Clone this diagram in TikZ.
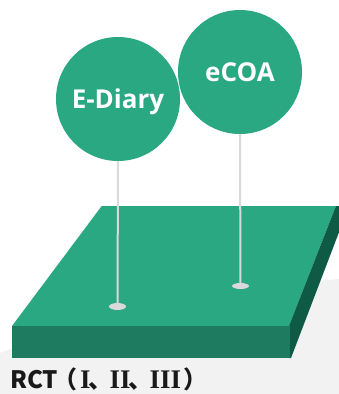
\documentclass[tikz,border=0pt]{standalone}
\usepackage{fontspec}
\newfontfamily\labelfont{Open Sans}
\newfontfamily\cjk{Noto Sans CJK SC}
\newfontfamily\romfont{Liberation Serif}[Scale=1.12]
\definecolor{topgreen}{HTML}{2AA882}
\definecolor{frontgreen}{HTML}{1E7B60}
\definecolor{sidegreen}{HTML}{0F5A45}
\definecolor{pingray}{HTML}{D9D9D9}
\definecolor{floorgray}{HTML}{F2F2F2}
\begin{document}
\begin{tikzpicture}[x=1pt,y=-1pt,
	bubble/.style={circle,fill=topgreen,minimum size=124pt,inner sep=0pt,text=white,text depth=0pt,font=\labelfont\bfseries\fontsize{26}{26}\selectfont},
	pinline/.style={draw=pingray,line width=2pt},
	pinhead/.style={fill=pingray}]
	\clip (0,0) rectangle (339,394);
	\fill[white] (0,0) rectangle (339,394);
	\fill[floorgray] (0,353) .. controls (100,315) and (220,290) .. (339,279) -- (339,394) -- (0,394) -- cycle;
	% platform
	\fill[topgreen] (12,326) -- (289,326) -- (336,206) -- (101.7,206) -- cycle;
	\fill[sidegreen] (289,326) -- (336,206) -- (349,206) -- (291,358) -- (289,358) -- cycle;
	\fill[frontgreen] (12,326) rectangle (290,358);
	% bubbles
	\node[bubble] (ecoa) at (240,72) {eCOA};
	\node[bubble] (ediary) at (118,99) {E-Diary};
	\coordinate (ediarypin) at (117.5,306.5);
	\coordinate (ecoapin) at (240.5,286);
	\draw[pinline] (ediary.south) -- (ediarypin);
	\draw[pinline] (ecoa.south) -- (ecoapin);
	\fill[pinhead] (ediarypin) ellipse [x radius=8.5pt,y radius=3.5pt];
	\fill[pinhead] (ecoapin) ellipse [x radius=8.5pt,y radius=3pt];
	\node[anchor=base west,inner sep=0pt,text=black!90,font=\fontsize{24}{24}\selectfont\bfseries] (rct) at (10,388) {{\cjk RCT\kern-5pt（}\kern3pt{\romfont I}\kern-2pt{\cjk 、}\kern-3pt{\romfont II}\kern-2pt{\cjk 、}\kern-3pt{\romfont III}\kern2pt{\cjk ）}};
\end{tikzpicture}
\end{document}
